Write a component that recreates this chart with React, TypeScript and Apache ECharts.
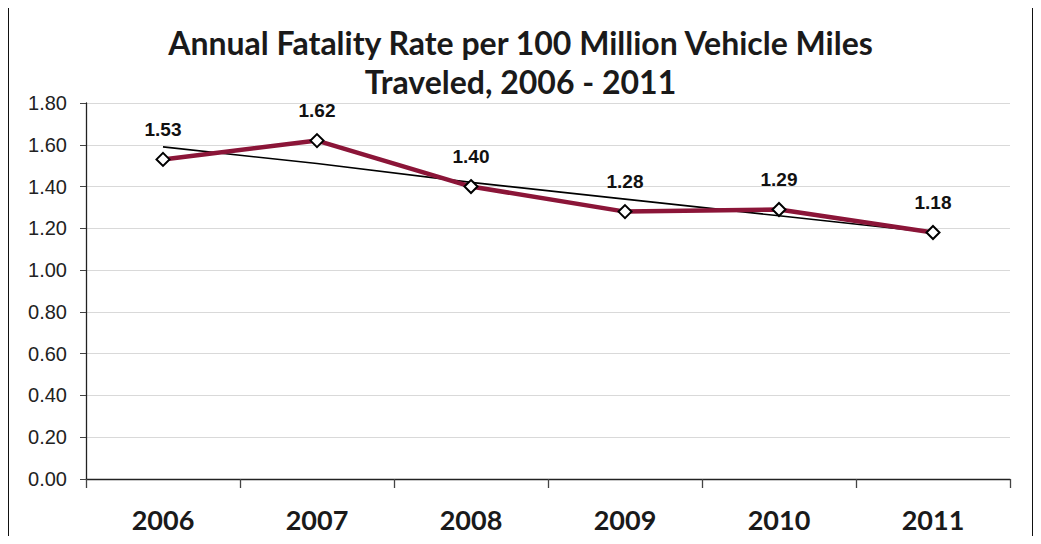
import React, { useEffect, useRef } from "react";
import * as echarts from "echarts";

const years = ["2006", "2007", "2008", "2009", "2010", "2011"];
const rates = [1.53, 1.62, 1.4, 1.28, 1.29, 1.18];
const trend = [1.59, 1.51, 1.42, 1.34, 1.26, 1.18];
const titleText = "Annual Fatality Rate per 100 Million Vehicle Miles\nTraveled, 2006 - 2011";

const frameStyle = { fill: "#111111" };

export default function App() {
  const ref = useRef<HTMLDivElement>(null);
  useEffect(() => {
    if (!ref.current) return;
    const chart = echarts.init(ref.current, null, { renderer: "svg" });
    chart.setOption({
      animation: false,
      backgroundColor: "#ffffff",
      title: {
        text: titleText,
        left: "center",
        top: 18,
        textStyle: {
          fontFamily: "Lato",
          fontWeight: "bold",
          fontSize: 32,
          lineHeight: 39,
          color: "#1a1a1a",
        },
      },
      graphic: {
        elements: [
          { type: "rect", z: 100, silent: true, shape: { x: 6, y: 3, width: 1029, height: 3 }, style: frameStyle },
          { type: "rect", z: 100, silent: true, shape: { x: 6, y: 538, width: 1029, height: 3 }, style: frameStyle },
          { type: "rect", z: 100, silent: true, shape: { x: 6, y: 3, width: 3, height: 538 }, style: frameStyle },
          { type: "rect", z: 100, silent: true, shape: { x: 1032, y: 3, width: 3, height: 538 }, style: frameStyle },
        ],
      },
      grid: { left: 86, right: 31, top: 103, bottom: 65, containLabel: false },
      xAxis: {
        type: "category",
        data: years,
        boundaryGap: true,
        axisLine: { lineStyle: { color: "#222", width: 1.3 } },
        axisTick: { show: true, interval: 0, length: 9, lineStyle: { color: "#444", width: 1.3 } },
        axisLabel: {
          margin: 27,
          fontFamily: "Lato",
          fontWeight: "bold",
          fontSize: 27,
          color: "#1a1a1a",
        },
        splitLine: { show: false },
      },
      yAxis: {
        type: "value",
        min: 0,
        max: 1.8,
        interval: 0.2,
        axisLine: { show: true, lineStyle: { color: "#222", width: 1.3 } },
        axisTick: { show: true, length: 6, lineStyle: { color: "#444" } },
        axisLabel: {
          margin: 19,
          fontFamily: "Liberation Sans",
          fontSize: 20,
          color: "#222",
          formatter: (v: number) => v.toFixed(2),
        },
        splitLine: { show: true, lineStyle: { color: "#d9d9d9", width: 1.2 } },
      },
      series: [
        {
          name: "Fatality Rate",
          type: "line",
          data: rates,
          z: 3,
          lineStyle: { color: "#8b1538", width: 4.5 },
          symbol: "diamond",
          symbolSize: 13,
          itemStyle: { color: "#ffffff", borderColor: "#000000", borderWidth: 2 },
          label: {
            show: true,
            position: "top",
            distance: 13,
            fontFamily: "Liberation Sans",
            fontWeight: "bold",
            fontSize: 19,
            color: "#111",
            formatter: (p: any) => Number(p.value).toFixed(2),
          },
        },
        {
          name: "Trend",
          type: "line",
          data: trend,
          z: 2,
          symbol: "none",
          lineStyle: { color: "#000000", width: 1.6 },
          label: { show: false },
          silent: true,
        },
      ],
    });
    return () => chart.dispose();
  }, []);
  return <div ref={ref} style={{ width: 1041, height: 544, margin: -8 }} />;
}
